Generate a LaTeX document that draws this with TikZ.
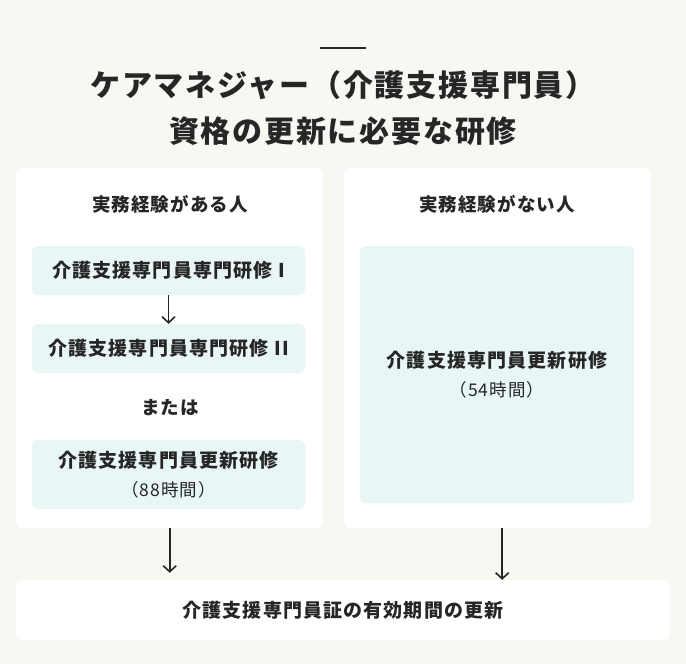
\documentclass[tikz,border=0pt]{standalone}
\usepackage{fontspec}
\setmainfont{Noto Sans CJK JP}
\newfontfamily\jpfont[LetterSpace=6]{Noto Sans CJK JP}
\newcommand\hourtext[1]{{\mdseries\fontsize{17.5}{22}\selectfont #1}}
\definecolor{cream}{RGB}{249,247,241}
\definecolor{mint}{RGB}{232,246,246}
\definecolor{ink}{RGB}{38,38,38}
\usetikzlibrary{arrows.meta,positioning}
\tikzset{
  panel/.style={fill=white, rounded corners=6pt, anchor=north west, inner sep=0pt},
  course/.style={fill=mint, rounded corners=6pt, inner sep=0pt, align=center, text=ink,
              font=\jpfont\bfseries\fontsize{19}{29}\selectfont, minimum width=273pt},
  head/.style={text=ink, font=\jpfont\bfseries\fontsize{18.5}{22}\selectfont},
  flow/.style={-{Straight Barb[length=6pt,width=13pt]}, ink, line width=1.6pt},
}

\begin{document}
\begin{tikzpicture}[x=1pt,y=-1pt]
        \fill[cream] (0,0) rectangle (686,664);
        \draw[ink,line width=2pt] (320,47.5) -- (366,47.5);
        \node[text=ink,align=center,font=\jpfont\bfseries\fontsize{30}{46}\selectfont] (title) at (343,108.5) {ケアマネジャー（介護支援専門員）\\資格の更新に必要な研修};
        % two panels
        \node[panel,minimum width=307pt,minimum height=360pt] (havePanel) at (16,168) {};
        \node[panel,minimum width=307pt,minimum height=360pt] (nonePanel) at (344,168) {};
        \node[head] (haveHead) at (170,204) {実務経験がある人};
        \node[head] (noneHead) at (497,204) {実務経験がない人};
        \node[course,minimum height=49pt] (senmon1) at (168.5,270.5) {介護支援専門員専門研修 I};
        \node[course,minimum height=49pt] (senmon2) at (168.5,348.5) {介護支援専門員専門研修 II};
        \node[head] (orLabel) at (170,408) {または};
        \node[course,minimum height=69pt] (koushin88) at (168.5,474.5) {介護支援専門員更新研修\\\hourtext{（88時間）}};
        \node[course,minimum width=274pt,minimum height=257pt] (koushin54) at (497,374.5) {介護支援専門員更新研修\\\hourtext{（54時間）}};
        % result
        \node[fill=white,rounded corners=6pt,minimum width=654pt,minimum height=60pt,text=ink,
              font=\jpfont\bfseries\fontsize{19}{24}\selectfont] (renewal) at (343,610) {介護支援専門員証の有効期間の更新};
        \draw[flow] (senmon1) -- (senmon2);
        \draw[flow,shorten >=7pt] (havePanel.south) -- (havePanel.south |- renewal.north);
        \draw[flow] ([xshift=4.5pt]nonePanel.south) -- ([xshift=4.5pt]nonePanel.south |- renewal.north);
      \end{tikzpicture}
\end{document}
